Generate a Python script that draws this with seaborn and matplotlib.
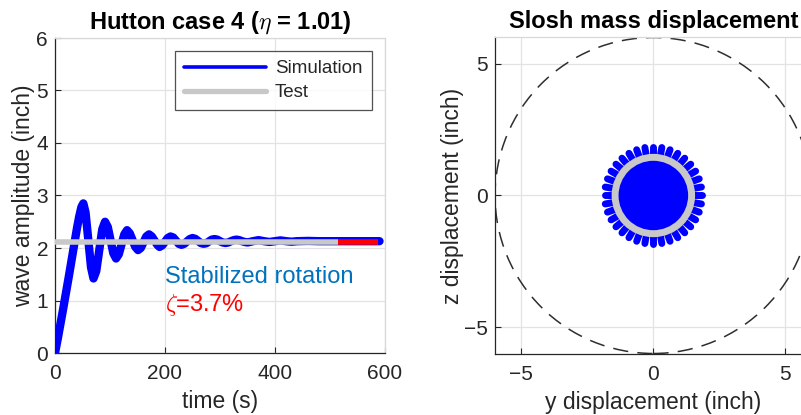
import numpy as np
import pandas as pd
import matplotlib
matplotlib.use("Agg")
import matplotlib.pyplot as plt
from matplotlib.patches import Circle
from matplotlib.lines import Line2D
import seaborn as sns

# ---------------- data ----------------
sim_t = [0, 5, 10, 15, 20, 25, 30, 35, 40, 44, 48, 51.5,
         55.5, 60.5, 65.5, 70,
         75, 80.5, 86, 91,
         96, 101, 106, 111,
         116, 121, 126, 131,
         136, 141, 146, 151,
         156, 161, 166, 171,
         176, 181, 186, 190,
         195, 200, 205, 210,
         215, 220, 225, 230,
         235, 240, 245, 250,
         255, 260, 265, 270,
         275, 280, 285, 290,
         295, 300, 305, 310,
         315, 320, 325, 330,
         335, 340, 345, 350,
         360, 370, 380, 390, 400, 410, 420, 430, 440, 460, 480, 520, 590]
sim_a = [0.0, 0.27, 0.56, 0.85, 1.15, 1.45, 1.76, 2.07, 2.38, 2.60, 2.78, 2.85,
         2.68, 2.16, 1.63, 1.42,
         1.56, 1.96, 2.36, 2.50,
         2.40, 2.15, 1.90, 1.80,
         1.88, 2.07, 2.26, 2.34,
         2.28, 2.15, 2.02, 1.96,
         2.00, 2.11, 2.22, 2.26,
         2.22, 2.14, 2.06, 2.02,
         2.05, 2.12, 2.19, 2.22,
         2.20, 2.14, 2.08, 2.06,
         2.08, 2.125, 2.17, 2.19,
         2.175, 2.135, 2.095, 2.08,
         2.09, 2.125, 2.16, 2.17,
         2.16, 2.13, 2.105, 2.095,
         2.105, 2.13, 2.15, 2.16,
         2.15, 2.13, 2.115, 2.105,
         2.13, 2.15, 2.13, 2.115, 2.13, 2.145, 2.13, 2.12, 2.13, 2.135, 2.13, 2.13, 2.13]

test_t_gray = [0, 515]
test_t_red = [515, 587]
test_level = 2.11

left_xticks = [0, 200, 400, 600]
left_yticks = [0, 1, 2, 3, 4, 5, 6]
right_ticks = [-5, 0, 5]

# slosh mass displacement
tank_radius = 6.0
disk_radius = 1.5
ring_radius = 1.45
stub_r_in = 1.45
stub_r_out = 1.85
stub_angles_deg = [0, 10, 20, 30, 40, 50, 60, 70, 80, 90,
                   100, 110, 120, 130, 140, 150, 160, 170,
                   180, 190, 200, 210, 220, 230, 240, 250,
                   260, 270, 280, 290, 300, 310, 320, 330, 340, 350]

# ---------------- style ----------------
sns.set_theme(style="white")
plt.rcParams['font.family'] = ['Liberation Sans', 'DejaVu Sans']
plt.rcParams['mathtext.fontset'] = 'cm'
dark = '#262626'
gridc = '#e3e3e3'
TICK = 15
LAB = 16.5

fig = plt.figure(figsize=(8.01, 4.15), dpi=100)
W, H = 801, 415
ax1 = fig.add_axes([55 / W, (H - 353) / H, 330 / W, 315 / H])
ax2 = fig.add_axes([495 / W, (H - 353.5) / H, 316.7 / W, 316 / H])


def style_axes(ax):
    ax.set_facecolor('white')
    ax.grid(True, color=gridc, lw=0.9, zorder=0)
    ax.set_axisbelow(True)
    for s in ['left', 'bottom']:
        ax.spines[s].set_color(dark)
        ax.spines[s].set_linewidth(0.9)
    for s in ['top', 'right']:
        ax.spines[s].set_color('#d8d8d8')
        ax.spines[s].set_linewidth(0.9)
    ax.tick_params(direction='in', length=4, width=0.8, color=dark,
                   labelcolor=dark, labelsize=TICK, top=False, right=False,
                   left=True, bottom=True)
    ax.tick_params(axis='x', pad=8)
    ax.tick_params(axis='y', pad=5)


# ---------------- left panel ----------------
style_axes(ax1)
sns.lineplot(x=sim_t, y=sim_a, ax=ax1, color='#0000ff', lw=6.0,
             estimator=None, solid_joinstyle='round', solid_capstyle='round', zorder=3)
sns.lineplot(x=test_t_gray, y=[test_level] * 2, ax=ax1, color='#c8c8c8', lw=4.0,
             estimator=None, solid_capstyle='butt', zorder=4)
sns.lineplot(x=test_t_red, y=[test_level] * 2, ax=ax1, color='#ff0000', lw=4.0,
             estimator=None, solid_capstyle='butt', zorder=4)
ax1.set_xlim(0, 600)
ax1.set_ylim(0, 6)
ax1.set_xticks(left_xticks)
ax1.set_yticks(left_yticks)
ax1.set_xlabel('time (s)', fontsize=LAB, color=dark, labelpad=5)
ax1.set_ylabel('wave amplitude (inch)', fontsize=LAB, color=dark, labelpad=1)
ax1.set_title(r'Hutton case 4 ($\eta$ = 1.01)', fontsize=17, fontweight='bold',
              color='black', pad=7)
ax1.text(200, 1.45, 'Stabilized rotation', color='#0072bd', fontsize=17,
         va='center', ha='left')
ax1.text(200, 0.91, r'$\zeta$=3.7%', color='#ff0000', fontsize=17,
         va='center', ha='left')
handles = [Line2D([0], [0], color='#0000ff', lw=2.6),
           Line2D([0], [0], color='#c8c8c8', lw=3.8)]
leg = ax1.legend(handles, ['Simulation', 'Test'], loc='upper right',
                 bbox_to_anchor=(0.96, 0.959), fontsize=13.5, frameon=True,
                 fancybox=False, shadow=False, handlelength=4.4,
                 handletextpad=0.45, labelspacing=0.35, borderpad=0.5,
                 borderaxespad=0)
leg.get_frame().set_edgecolor(dark)
leg.get_frame().set_linewidth(0.9)
for t in leg.get_texts():
    t.set_color(dark)

# ---------------- right panel ----------------
style_axes(ax2)
ax2.add_patch(Circle((0, 0), tank_radius, fill=False, ec='#2e2e2e', lw=1.1,
                     ls=(0, (10, 6)), zorder=2))
ax2.add_patch(Circle((0, 0), disk_radius, fc='#0000ff', ec='none', zorder=3))
ang = np.deg2rad(np.array(stub_angles_deg))
rows = []
for i, a in enumerate(ang):
    for r in (stub_r_in, stub_r_out):
        rows.append({'stub': i, 'y': r * np.cos(a), 'z': r * np.sin(a)})
stubs = pd.DataFrame(rows)
sns.lineplot(data=stubs, x='y', y='z', units='stub', estimator=None, sort=False,
             color='#0000ff', lw=5.0, solid_capstyle='round', ax=ax2,
             legend=False, zorder=3)
ax2.add_patch(Circle((0, 0), ring_radius, fill=False, ec='#c8c8c8', lw=5.0, zorder=4))
ax2.set_xlim(-6, 6)
ax2.set_ylim(-6, 6)
ax2.set_xticks(right_ticks)
ax2.set_yticks(right_ticks)
ax2.set_xlabel('y displacement (inch)', fontsize=LAB, color=dark, labelpad=5)
ax2.set_ylabel('z displacement (inch)', fontsize=LAB, color=dark, labelpad=0)
ax2.set_title('Slosh mass displacement', fontsize=17, fontweight='bold',
              color='black', pad=7)

fig.savefig('out.png', dpi=100)
